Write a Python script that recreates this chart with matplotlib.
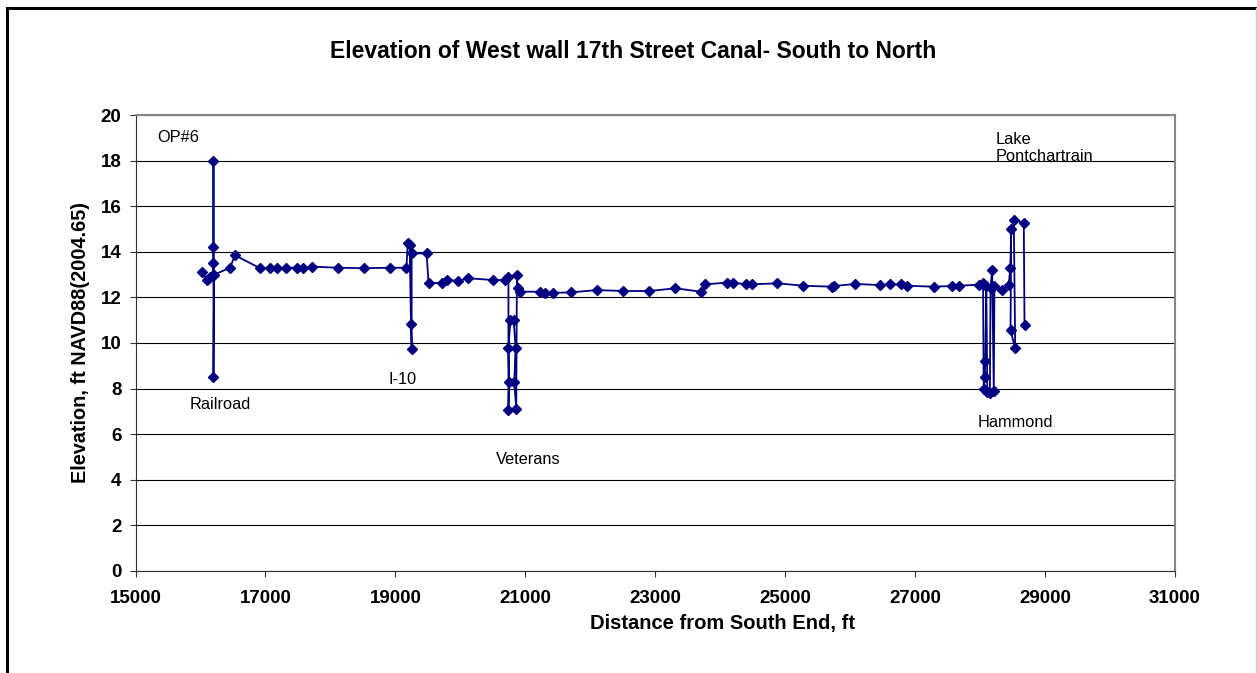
import matplotlib
matplotlib.use('Agg')
import matplotlib.pyplot as plt
from matplotlib.lines import Line2D

plt.rcParams['font.family'] = ['Liberation Sans', 'DejaVu Sans']

# distance from south end (ft) and wall elevation (ft NAVD88), in survey order
distance = [16030, 16100, 16150, 16200, 16200, 16200, 16200, 16200, 16210,
            16455, 16530, 16917, 17070, 17180, 17310, 17480, 17580, 17720,
            18120, 18520, 18920, 19170, 19190, 19220, 19240, 19250, 19250,
            19480, 19510, 19720, 19790, 19970, 20125, 20510, 20690, 20740,
            20740, 20750, 20740, 20770, 20820, 20850, 20830, 20860, 20870,
            20880, 20920, 21230, 21306, 21425, 21700, 22100, 22510, 22910,
            23310, 23700, 23770, 24100, 24200, 24390, 24490, 24880, 25280,
            25720, 25750, 26080, 26465, 26620, 26785, 26880, 27290, 27570,
            27670, 27980, 28045, 28055, 28070, 28080, 28095, 28110, 28150,
            28160, 28185, 28210, 28220, 28340, 28440, 28465, 28478, 28468,
            28540, 28518, 28672, 28683]
elevation = [13.1, 12.75, 12.9, 13.0, 18.0, 14.2, 13.5, 8.5, 13.0,
             13.3, 13.85, 13.28, 13.3, 13.3, 13.3, 13.3, 13.3, 13.35,
             13.3, 13.28, 13.3, 13.3, 14.37, 14.28, 10.85, 9.75, 13.93,
             13.93, 12.65, 12.62, 12.76, 12.73, 12.84, 12.76, 12.76, 12.9,
             7.05, 8.3, 9.8, 11.0, 11.0, 9.8, 8.3, 7.12, 12.97,
             12.4, 12.25, 12.25, 12.2, 12.2, 12.22, 12.32, 12.28, 12.28,
             12.4, 12.25, 12.57, 12.65, 12.65, 12.57, 12.57, 12.62, 12.51,
             12.47, 12.5, 12.59, 12.54, 12.57, 12.57, 12.51, 12.47, 12.5,
             12.51, 12.56, 12.62, 8.0, 8.5, 9.2, 12.5, 7.85, 7.8,
             12.4, 13.2, 7.9, 12.5, 12.32, 12.54, 13.3, 14.98, 10.55,
             9.77, 15.4, 15.28, 10.8]

labels = ['OP#6', 'Railroad', 'I-10', 'Veterans', 'Hammond', 'Lake\nPontchartrain']
label_x = [15330, 15840, 18890, 20540, 27960, 28240]
label_y = [19.0, 7.3, 8.4, 4.9, 6.5, 18.55]

fig = plt.figure(figsize=(12.57, 6.73), dpi=100)
ax = fig.add_axes([0.1078, 0.1516, 0.8270, 0.6775])

ax.plot(distance, elevation, color='#000080', lw=1.3, marker='D',
        markersize=5.5, markeredgecolor='#000080', zorder=3)

for t, x, y in zip(labels, label_x, label_y):
    ax.text(x, y, t, fontsize=11.8, ha='left', va='center', linespacing=1.1)

ax.set_xlim(15000, 31000)
ax.set_ylim(0, 20)
ax.set_xticks(range(15000, 31001, 2000))
ax.set_yticks(range(0, 21, 2))
ax.yaxis.grid(True, color='black', lw=0.8)
ax.set_axisbelow(True)
ax.tick_params(direction='out', length=4, width=0.8, colors='#333333',
               labelcolor='black', labelsize=13.5)
for lab in ax.get_xticklabels() + ax.get_yticklabels():
    lab.set_fontweight('bold')
ax.tick_params(axis='x', pad=10)
ax.tick_params(axis='y', pad=6)
for s in ['left', 'bottom']:
    ax.spines[s].set_color('#333333')
for s in ['top', 'right']:
    ax.spines[s].set_color('#888888')
    ax.spines[s].set_linewidth(1.5)

ax.set_xlabel('Distance from South End, ft', fontsize=14.5, fontweight='bold')
ax.xaxis.set_label_coords(0.565, -0.095)
ax.set_ylabel('Elevation, ft NAVD88(2004.65)', fontsize=14.3, fontweight='bold', labelpad=8)
ax.set_title('Elevation of West wall 17th Street Canal- South to North',
             fontsize=16.5, fontweight='bold', pad=41, x=0.4786)

# outer chart frame
fig.add_artist(Line2D([7 / 1257, 7 / 1257], [0, 1 - 8 / 673], color='black', lw=2.2))
fig.add_artist(Line2D([7 / 1257, 1], [1 - 8 / 673, 1 - 8 / 673], color='black', lw=2.2))
fig.add_artist(Line2D([1255.5 / 1257, 1255.5 / 1257], [0, 1 - 8 / 673], color='#cccccc', lw=1))

fig.savefig('out.png', dpi=100)
